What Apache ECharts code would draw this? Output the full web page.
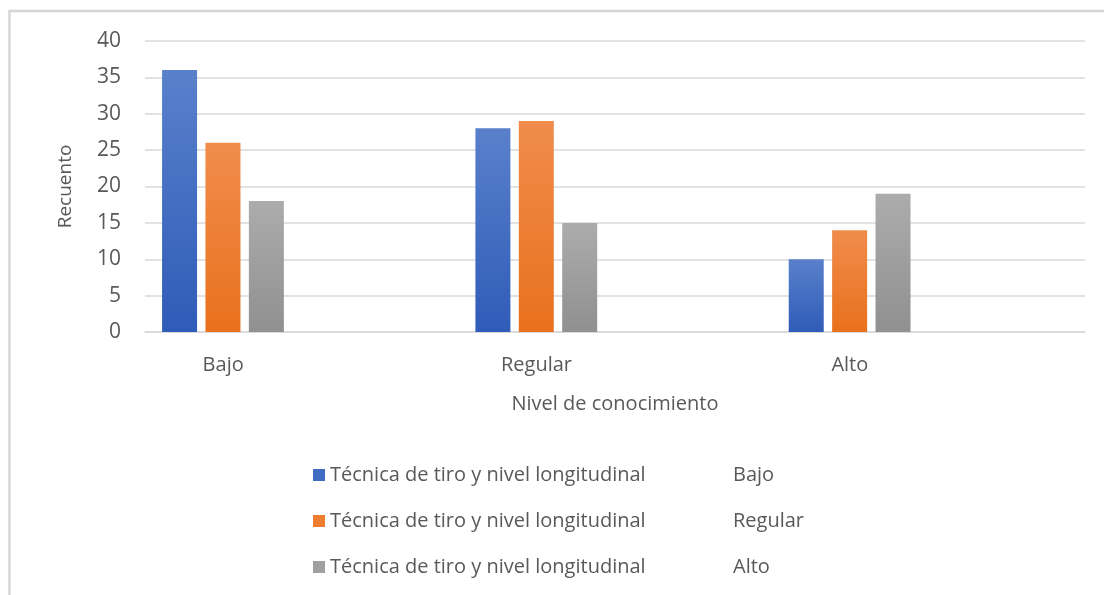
<!DOCTYPE html>
<html>
<head>
<meta charset="utf-8">
<script src="https://cdn.jsdelivr.net/npm/echarts@6/dist/echarts.min.js"></script>
<style>
html,body{margin:0;padding:0;background:#fff;}
#c{width:1104px;height:595px;}
</style>
</head>
<body>
<div id="c"></div>
<script>
const categories = ['Bajo', 'Regular', 'Alto'];
const seriesPrefix = 'Técnica de tiro y nivel longitudinal';
const seriesLevels = ['Bajo', 'Regular', 'Alto'];
const valuesBajo = [36, 28, 10];
const valuesRegular = [26, 29, 14];
const valuesAlto = [18, 15, 19];
const yTicks = [0, 5, 10, 15, 20, 25, 30, 35, 40];

const FONT = '"Open Sans"';
const TEXT = '#595959';
const FS = 20;

function grad(top, bottom) {
  return new echarts.graphic.LinearGradient(0, 0, 0, 1, [
    {offset: 0, color: top}, {offset: 1, color: bottom}
  ]);
}
const colors = [
  grad('#5a80cb', '#2f5cb8'),
  grad('#f08c4c', '#e9711d'),
  grad('#acacac', '#909090')
];
const legendColors = ['#3f6cc2', '#ee7c31', '#a0a0a0'];
const allValues = [valuesBajo, valuesRegular, valuesAlto];

const series = seriesLevels.map((lv, i) => ({
  name: seriesPrefix + '|' + lv,
  type: 'bar',
  barWidth: 35,
  barGap: '24%',
  data: allValues[i],
  itemStyle: {color: colors[i]},
  color: legendColors[i]
}));
series.push({
  name: 'spacer',
  type: 'bar',
  barWidth: 149,
  barGap: '24%',
  data: ['-', '-', '-'],
  silent: true,
  itemStyle: {opacity: 0}
});

const chart = echarts.init(document.getElementById('c'), null, {renderer: 'canvas'});
chart.setOption({
  animation: false,
  backgroundColor: '#fff',
  textStyle: {fontFamily: FONT},
  graphic: [{
    type: 'polyline',
    shape: {points: [[9.5, 600], [9.5, 11], [1110, 11]]},
    style: {stroke: '#d6d6d6', lineWidth: 2.5, fill: null}
  }],
  grid: {left: 145, right: 19, top: 41, bottom: 263, containLabel: false},
  xAxis: {
    type: 'category',
    data: categories,
    name: 'Nivel de conocimiento',
    nameLocation: 'middle',
    nameGap: 62,
    nameTextStyle: {color: TEXT, fontSize: FS, fontFamily: FONT},
    axisLine: {lineStyle: {color: '#d9d9d9', width: 1.5}},
    axisTick: {show: false},
    axisLabel: {
      color: TEXT, fontSize: FS, fontFamily: FONT, margin: 23,
      formatter: v => '{a|' + v + '}',
      rich: {a: {color: TEXT, fontSize: FS, fontFamily: FONT, padding: [0, 157, 0, 0]}}
    }
  },
  yAxis: {
    type: 'value',
    min: yTicks[0],
    max: yTicks[yTicks.length - 1],
    interval: yTicks[1] - yTicks[0],
    name: 'Recuento',
    nameLocation: 'middle',
    nameGap: 70,
    nameTextStyle: {color: TEXT, fontSize: 19, fontFamily: FONT},
    axisLine: {show: false},
    axisTick: {show: false},
    axisLabel: {color: TEXT, fontSize: 21, fontFamily: FONT, margin: 24},
    splitLine: {lineStyle: {color: '#d9d9d9', width: 1.5}}
  },
  legend: {
    data: series.slice(0, 3).map((s, i) => ({name: s.name, itemStyle: {color: legendColors[i]}})),
    orient: 'vertical',
    left: 308,
    top: 460,
    itemWidth: 12,
    itemHeight: 12,
    itemGap: 26,
    icon: 'rect',
    selectedMode: false,
    formatter: name => {
      const parts = name.split('|');
      return '{a|' + parts[0] + '}{b|' + parts[1] + '}';
    },
    textStyle: {
      color: TEXT, fontSize: 20, fontFamily: FONT,
      rich: {
        a: {color: TEXT, fontSize: 20, fontFamily: FONT, width: 403},
        b: {color: TEXT, fontSize: 20, fontFamily: FONT}
      }
    }
  },
  series: series
});
</script>
</body>
</html>
